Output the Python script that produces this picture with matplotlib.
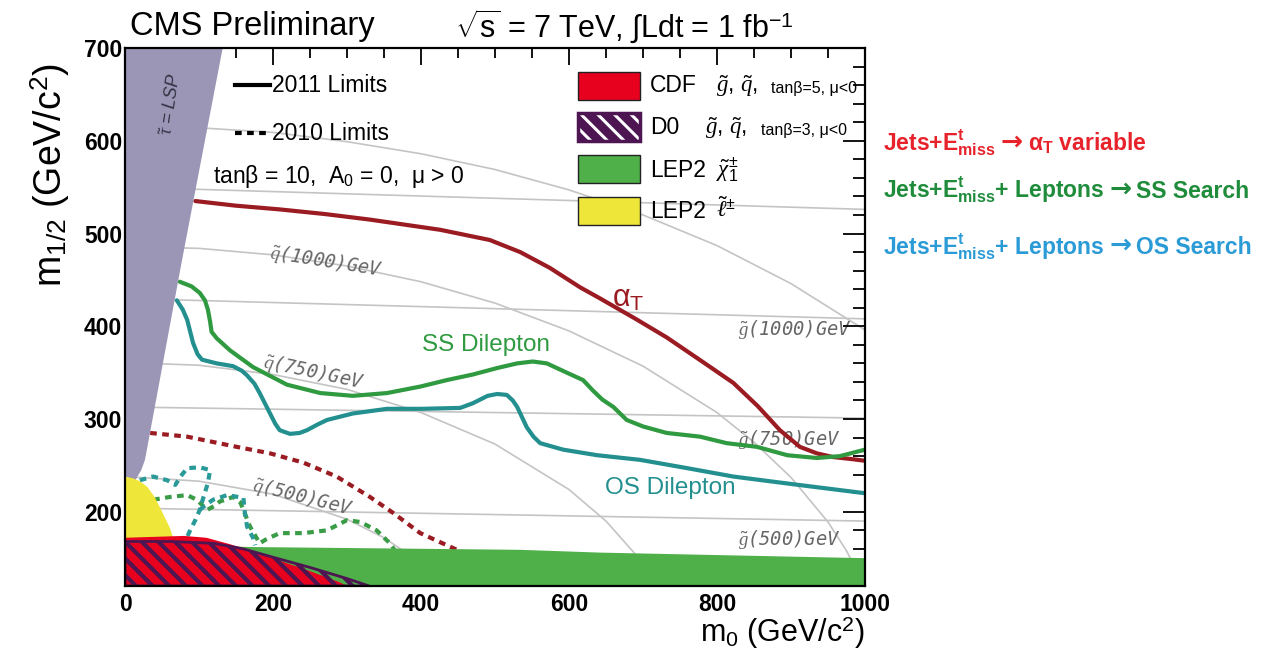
import matplotlib
matplotlib.use("Agg")
import matplotlib.pyplot as plt
from matplotlib.patches import Rectangle
from matplotlib.lines import Line2D
from matplotlib.ticker import MultipleLocator

plt.rcParams['font.family'] = ['Liberation Sans', 'DejaVu Sans']
plt.rcParams['mathtext.fontset'] = 'custom'
plt.rcParams['mathtext.rm'] = 'Liberation Sans'
plt.rcParams['mathtext.it'] = 'Liberation Serif:italic'
plt.rcParams['mathtext.bf'] = 'Liberation Sans:bold'
plt.rcParams['hatch.linewidth'] = 3.0

# ---------------- 2011 exclusion limits (m0, m1/2) in GeV ----------------
alphaT_m0 = [95, 150, 209, 270, 331, 426, 493, 534, 574, 615, 642, 690, 732, 780,
             822, 855, 885, 912, 935, 957, 980, 1000]
alphaT_m12 = [535, 530, 526, 521, 515, 504, 493, 480, 463, 442, 430, 408, 388, 362,
              339, 314, 288, 270, 263, 259, 257, 255]

ss_m0 = [74, 90, 101, 108, 112, 115, 117, 124, 142, 173, 219, 264, 308, 354, 399,
         435, 470, 503, 530, 551, 570, 597, 619, 632, 645, 660, 678, 700, 732, 777,
         813, 854, 895, 935, 966, 1000]
ss_m12 = [448, 443, 436, 428, 418, 405, 394, 387, 374, 356, 337, 328, 325, 328, 335,
          342, 348, 355, 360, 362, 360, 350, 342, 331, 321, 313, 299, 292, 285, 281,
          274, 270, 261, 258, 260, 267]

os_m0 = [70, 78, 84, 92, 98, 104, 124, 146, 158, 165, 175, 182, 196, 203, 209, 223,
         236, 246, 260, 273, 308, 354, 400, 453, 470, 490, 503, 516, 524, 530, 543,
         552, 561, 592, 638, 696, 760, 822, 900, 1000]
os_m12 = [428, 418, 407, 382, 370, 364, 360, 357, 352, 347, 338, 328, 306, 295, 288,
          284, 285, 288, 294, 299, 306, 311, 311, 312, 317, 325, 327, 326, 320, 313,
          291, 281, 274, 267, 261, 256, 247, 238, 230, 220]

# ---------------- 2010 exclusion limits ----------------
alphaT10_m0 = [34, 84, 151, 196, 241, 286, 331, 362, 399, 443, 470]
alphaT10_m12 = [285, 281, 270, 263, 253, 238, 216, 199, 177, 161, 152]

ss10_m0 = [38, 61, 84, 97, 111, 120, 128, 146, 156, 160, 169, 182, 190, 209, 241,
           273, 300, 318, 340, 358, 365]
ss10_m12 = [213, 216, 218, 213, 202, 206, 211, 216, 210, 202, 184, 166, 170, 177, 177,
            180, 191, 189, 180, 166, 158]

os10a_m0 = [20, 38, 57, 68, 75, 84, 101, 115, 112, 105, 101, 95, 88, 84]
os10a_m12 = [234, 238, 234, 229, 238, 247, 248, 245, 231, 213, 202, 191, 180, 173]
os10b_m0 = [101, 110, 119, 138, 160, 162, 165, 173, 176]
os10b_m12 = [202, 208, 213, 218, 215, 199, 184, 172, 164]

# ---------------- excluded / forbidden regions ----------------
stau_m0 = [0, 22, 27, 77, 132, 0]
stau_m12 = [215, 245, 256, 471, 700, 700]

lep_slepton_m0 = [0, 11, 20, 30, 40, 47, 55, 61, 65, 66, 0]
lep_slepton_m12 = [238, 236, 233, 227, 216, 205, 192, 182, 172, 160, 160]

lep_chargino_m0 = [0, 0, 173, 534, 642, 1000, 1000]
lep_chargino_m12 = [120, 165, 162, 159, 156, 150, 120]

cdf_m0 = [0, 0, 40, 80, 110, 142, 175, 210, 250, 290, 300]
cdf_m12 = [120, 172, 173, 174, 172, 165, 157, 147, 136, 124, 120]

d0_m0 = [0, 0, 60, 120, 160, 200, 250, 300, 330]
d0_m12 = [120, 168, 168, 166, 160, 151, 140, 128, 120]

# ---------------- squark / gluino iso-mass contours ----------------
sq500_m0 = [0, 100, 200, 300, 350, 400, 450]
sq500_m12 = [238, 233, 219, 192, 172, 145, 108]
sq750_m0 = [0, 100, 200, 300, 400, 500, 600, 650, 700, 740]
sq750_m12 = [361, 358, 348, 332, 307, 273, 224, 190, 145, 91]
sq1000_m0 = [0, 100, 200, 300, 400, 500, 600, 700, 800, 850, 900, 950, 975, 1000]
sq1000_m12 = [486, 484, 477, 465, 448, 425, 395, 357, 307, 275, 237, 189, 158, 118]
sq1300_m0 = [0, 100, 200, 300, 400, 500, 600, 700, 800, 900, 1000]
sq1300_m12 = [616, 614, 609, 599, 586, 569, 547, 520, 487, 446, 396]

gl500_m0, gl500_m12 = [0, 1000], [204, 190]
gl750_m0, gl750_m12 = [0, 1000], [313, 301]
gl1000_m0, gl1000_m12 = [0, 1000], [430, 408]
gl1250_m0, gl1250_m12 = [0, 1000], [550, 526]

# ---------------- colours ----------------
C_ALPHAT = '#9b1b22'
C_SS = '#2f9a40'
C_OS = '#23908f'
C_STAU = '#9b96b6'
C_YELLOW = '#efe63a'
C_CDF = '#e8001f'
C_D0 = '#4d1552'
C_LEP = '#4fb04a'
C_GRID = '#c4c4c4'

W, H = 1261, 664
fig = plt.figure(figsize=(W / 100, H / 100), dpi=100)
ax = fig.add_axes([125 / W, 1 - 586 / H, 740 / W, 538 / H])
ax.set_xlim(0, 1000)
ax.set_ylim(120, 700)


def fx(px):
    return px / W


def fy(py):
    return 1 - py / H


# iso-mass contours
for xs, ys in [(sq500_m0, sq500_m12), (sq750_m0, sq750_m12), (sq1000_m0, sq1000_m12),
               (sq1300_m0, sq1300_m12), (gl500_m0, gl500_m12), (gl750_m0, gl750_m12),
               (gl1000_m0, gl1000_m12), (gl1250_m0, gl1250_m12)]:
    ax.plot(xs, ys, color=C_GRID, lw=1.2, zorder=1)

# exclusion limits
ax.plot(alphaT_m0, alphaT_m12, color=C_ALPHAT, lw=3, zorder=2, solid_capstyle='round')
ax.plot(ss_m0, ss_m12, color=C_SS, lw=3, zorder=2, solid_capstyle='round')
ax.plot(os_m0, os_m12, color=C_OS, lw=3, zorder=2, solid_capstyle='round')
dash = (0, (1.6, 1.3))
ax.plot(alphaT10_m0, alphaT10_m12, color=C_ALPHAT, lw=3, ls=dash, zorder=2)
ax.plot(ss10_m0, ss10_m12, color='#3a9c46', lw=3, ls=dash, zorder=2)
ax.plot(os10a_m0, os10a_m12, color='#2a9a98', lw=3, ls=dash, zorder=2)
ax.plot(os10b_m0, os10b_m12, color='#2a9a98', lw=3, ls=dash, zorder=2)

# regions
ax.fill(lep_chargino_m0, lep_chargino_m12, color=C_LEP, lw=0, zorder=3)
ax.fill(stau_m0, stau_m12, color=C_STAU, lw=0, zorder=3)
ax.fill(lep_slepton_m0, lep_slepton_m12, color=C_YELLOW, lw=0, zorder=3)
ax.fill(cdf_m0, cdf_m12, color=C_CDF, lw=0, zorder=3)
ax.fill(d0_m0, d0_m12, facecolor='none', edgecolor=C_D0, hatch='\\\\', lw=2,
        zorder=3.5)

# axes styling
for s in ax.spines.values():
    s.set_linewidth(1.6)
    s.set_zorder(5)
ax.set_xticks(range(0, 1001, 200))
ax.set_yticks(range(200, 701, 100))
ax.xaxis.set_minor_locator(MultipleLocator(50))
ax.yaxis.set_minor_locator(MultipleLocator(20))
ax.tick_params(which='both', direction='in', top=True, right=True, width=1.3, zorder=6)
ax.tick_params(axis='x', which='major', length=12, pad=5, labelsize=16.5)
ax.tick_params(axis='x', which='minor', length=7)
ax.tick_params(axis='y', which='major', length=16, pad=2, labelsize=16.5)
ax.tick_params(axis='y', which='minor', length=8.5)
for t in ax.get_xticklabels() + ax.get_yticklabels():
    t.set_fontweight('bold')

# axis titles
fig.text(fx(865), fy(633), r'm$_0$ (GeV/c$^2$)', fontsize=22, ha='right', va='center')
fig.text(fx(50), fy(175), r'm$_{1/2}$ (GeV/c$^2$)', fontsize=27, ha='center',
         va='center', rotation=90)

# header
fig.text(fx(130), fy(27), 'CMS Preliminary', fontsize=23.5, ha='left', va='center')
fig.text(fx(455), fy(27), r'$\sqrt{\mathrm{s}}$ = 7 TeV, $\int$Ldt = 1 fb$^{-1}$',
         fontsize=22, ha='left', va='center')

# line-style key
fig.add_artist(Line2D([fx(235), fx(270)], [fy(85), fy(85)], color='black', lw=3))
fig.text(fx(272), fy(85), '2011 Limits', fontsize=16.5, ha='left', va='center')
fig.add_artist(Line2D([fx(235), fx(270)], [fy(133), fy(133)], color='black', lw=3,
                      ls=dash))
fig.text(fx(272), fy(133), '2010 Limits', fontsize=16.5, ha='left', va='center')
fig.text(fx(213), fy(177), r'tanβ = 10,  A$_0$ = 0,  μ > 0', fontsize=16.5,
         ha='left', va='center')

# region key
box_w, box_h = 62, 28
for py, col in [(72, C_CDF), (155, C_LEP), (197, C_YELLOW)]:
    fig.add_artist(Rectangle((fx(578), fy(py + box_h)), box_w / W, box_h / H,
                             facecolor=col, edgecolor='#222222', lw=1,
                             transform=fig.transFigure))
with plt.rc_context({'hatch.linewidth': 2.2}):
    fig.add_artist(Rectangle((fx(578), fy(113 + box_h)), box_w / W, box_h / H,
                             facecolor=C_D0, edgecolor='white', hatch='\\\\', lw=0,
                             transform=fig.transFigure))
fig.add_artist(Rectangle((fx(578), fy(113 + box_h)), box_w / W, box_h / H,
                         facecolor='none', edgecolor=C_D0, lw=2.5,
                         transform=fig.transFigure))

fig.text(fx(650), fy(86), 'CDF', fontsize=16.5, va='center')
fig.text(fx(716), fy(86), r'$\tilde{g}$, $\tilde{q}$,', fontsize=16.5, va='center')
fig.text(fx(771), fy(88), 'tanβ=5, μ<0', fontsize=11.5, va='center')
fig.text(fx(650), fy(128), 'D0', fontsize=16.5, va='center')
fig.text(fx(705), fy(128), r'$\tilde{g}$, $\tilde{q}$,', fontsize=16.5, va='center')
fig.text(fx(761), fy(130), 'tanβ=3, μ<0', fontsize=11.5, va='center')
fig.text(fx(650), fy(170), 'LEP2', fontsize=16.5, va='center')
fig.text(fx(716), fy(170), r'$\tilde{\chi}^{\pm}_{1}$', fontsize=16.5, va='center')
fig.text(fx(650), fy(212), 'LEP2', fontsize=16.5, va='center')
fig.text(fx(716), fy(210), r'$\tilde{\ell}^{\pm}$', fontsize=16.5, va='center')

# curve labels
ax.text(658, 430, r'α$_{\mathrm{T}}$', color=C_ALPHAT, fontsize=22, ha='left',
        va='center', zorder=4)
ax.text(401, 380, 'SS Dilepton', color=C_SS, fontsize=17.5, ha='left', va='center',
        zorder=4)
ax.text(649, 226, 'OS Dilepton', color=C_OS, fontsize=17.5, ha='left', va='center',
        zorder=4)
ax.text(63, 640, r'$\tilde{\tau}$ = LSP', color='#333344', fontsize=13, style='italic',
        rotation=82, ha='center', va='center', zorder=4)

# iso-mass labels
iso_kw = dict(color='#666666', fontsize=13.5, family='DejaVu Sans Mono', style='italic',
              ha='center', va='center', rotation_mode='anchor', zorder=1.5)
ax.text(272, 470, r'$\tilde{q}$(1000)GeV', rotation=-9, **iso_kw)
ax.text(255, 350, r'$\tilde{q}$(750)GeV', rotation=-12, **iso_kw)
ax.text(240, 216, r'$\tilde{q}$(500)GeV', rotation=-14, **iso_kw)
ax.text(905, 396, r'$\tilde{g}$(1000)GeV', **iso_kw)
ax.text(898, 278, r'$\tilde{g}$(750)GeV', **iso_kw)
ax.text(898, 170, r'$\tilde{g}$(500)GeV', **iso_kw)

# analysis key on the right: each line is built from pieces placed side by side
renderer = fig.canvas.get_renderer()
key_lines = [
    (151, '#e8222b', [r'Jets+E$^{\mathbf{t}}_{\mathbf{miss}}$', '→',
                      r'α$_{\mathbf{T}}$ variable']),
    (198, '#1f8c3b', [r'Jets+E$^{\mathbf{t}}_{\mathbf{miss}}$+ Leptons', '→',
                      'SS Search']),
    (254, '#2a9bd6', [r'Jets+E$^{\mathbf{t}}_{\mathbf{miss}}$+ Leptons', '→',
                      'OS Search']),
]
for py, col, pieces in key_lines:
    x = fx(883)
    for i, piece in enumerate(pieces):
        kw = dict(fontsize=16.5, fontweight='bold', color=col, ha='left', va='baseline')
        y = fy(py)
        if piece == '→':
            kw['family'] = ['DejaVu Sans']
            kw['fontsize'] = 19
            y = fy(py - 1)
        t = fig.text(x, y, piece, **kw)
        bb = t.get_window_extent(renderer)
        x = (bb.x1 + 5) / W

fig.savefig('out.png', dpi=100)
